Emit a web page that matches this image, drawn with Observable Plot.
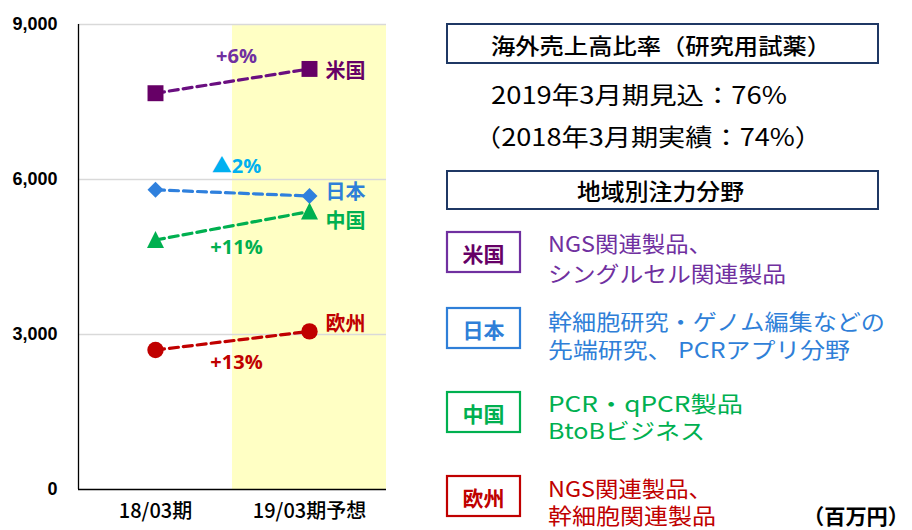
<!DOCTYPE html>
<html><head><meta charset="utf-8">
<script src="https://cdn.jsdelivr.net/npm/d3@7"></script>
<script src="https://cdn.jsdelivr.net/npm/@observablehq/plot@0.6"></script>
<style>
body{margin:0;background:#fff;}
#wrap{position:relative;width:912px;height:530px;overflow:hidden;}
#chart{position:absolute;left:0;top:0;}
#panel{position:absolute;left:0;top:0;font-family:"Noto Sans CJK JP",sans-serif;}
</style></head><body>
<div id="wrap"><div id="chart"></div><svg id="panel" width="912" height="530"></svg></div>
<script>
// ---- data ----
const categories = ["18/03期", "19/03期予想"];
const regions = ["米国", "日本", "中国", "欧州"];
const usSales = [7670, 8140];
const japanSales = [5800, 5680];
const chinaSales = [4830, 5380];
const europeSales = [2700, 3060];
const changeLabels = ["+6%", "▲2%", "+11%", "+13%"];
const yTicks = [0, 3000, 6000, 9000];
const focusLines = [
  ["NGS関連製品、", "シングルセル関連製品"],
  ["幹細胞研究・ゲノム編集などの", "先端研究、 PCRアプリ分野"],
  ["PCR・qPCR製品", "BtoBビジネス"],
  ["NGS関連製品、", "幹細胞関連製品"]
];
const ratioTitle = "海外売上高比率（研究用試薬）";
const ratioForecast = "2019年3月期見込：76%";
const ratioActual = "（2018年3月期実績：74%）";
const focusTitle = "地域別注力分野";
const unitLabel = "（百万円）";

const salesByRegion = [usSales, japanSales, chinaSales, europeSales];

// ---- styles ----
const tri = {draw(ctx, size){const r=Math.sqrt(size/Math.PI); ctx.moveTo(0,-r*1.05); ctx.lineTo(r,r*0.95); ctx.lineTo(-r,r*0.95); ctx.closePath();}};
const dia = {draw(ctx, size){const r=Math.sqrt(size/Math.PI); ctx.moveTo(0,-r); ctx.lineTo(r,0); ctx.lineTo(0,r); ctx.lineTo(-r,0); ctx.closePath();}};
const styles = [
  {mark:"#660066", line:"#6a0f80", name:"#660066", pct:"#7030a0", symbol:"square", r:9, pctDy:-24, nameDy:3, box:"#7030a0", text:"#7030a0"},
  {mark:"#2f80dd", line:"#2f80dd", name:"#2f7fd8", pct:"#00b0f0", symbol:dia, r:8, pctDy:-26, nameDy:-3, box:"#2f7fd8", text:"#2f7fd8"},
  {mark:"#00b050", line:"#00b050", name:"#00b050", pct:"#00b050", symbol:tri, r:8.5, pctDy:22, nameDy:10, box:"#00b050", text:"#00b050"},
  {mark:"#c00000", line:"#c00000", name:"#c00000", pct:"#c00000", symbol:"circle", r:8.2, pctDy:22, nameDy:-7, box:"#c00000", text:"#c00000"}
];

const marks = [
  Plot.rectY([{x1:1, x2:2, y1:0, y2:9000}], {x1:"x1", x2:"x2", y1:"y1", y2:"y2", fill:"#ffffc4"}),
  Plot.ruleY(yTicks.filter(d => d > 0), {stroke:"#d9d9d9", strokeWidth:1.3}),
  Plot.ruleX([0], {stroke:"#000", strokeWidth:1.3}),
  Plot.ruleY([0], {stroke:"#000", strokeWidth:1.3}),
  Plot.axisY({ticks:yTicks, tickFormat:d3.format(","), tickSize:0, tickPadding:21, fontSize:18, fontWeight:"bold", fill:"#000", fontFamily:"Liberation Sans, Arial, sans-serif"}),
  Plot.axisX({ticks:[0.5, 1.5], tickFormat:d => categories[Math.round(d - 0.5)], tickSize:0, tickPadding:14, fontSize:20, fontWeight:500, fill:"#000", fontFamily:"Noto Sans CJK JP, sans-serif", style:"letter-spacing:2.5px"})
];

regions.forEach((reg, i) => {
  const s = styles[i];
  const rows = salesByRegion[i].map((v, j) => ({x: j + 0.5, y: v}));
  marks.push(Plot.line(rows, {x:"x", y:"y", stroke:s.line, strokeWidth:3.2, strokeDasharray:"9,5"}));
  marks.push(Plot.dot(rows, {x:"x", y:"y", symbol:s.symbol, r:s.r, fill:s.mark, stroke:"none"}));
  const mid = (salesByRegion[i][0] + salesByRegion[i][1]) / 2;
  marks.push(Plot.text([{x:1, y:mid, t:changeLabels[i]}], {x:"x", y:"y", text:"t", dx:4, dy:s.pctDy, fill:s.pct, fontSize:20, fontWeight:"bold", fontFamily:"Open Sans, Noto Sans CJK JP, sans-serif"}));
  marks.push(Plot.text([{x:1.5, y:salesByRegion[i][1], t:reg}], {x:"x", y:"y", text:"t", dx:16, dy:s.nameDy, textAnchor:"start", fill:s.name, fontSize:20, fontWeight:"bold", fontFamily:"Noto Sans CJK JP, sans-serif"}));
});

const chart = Plot.plot({
  width: 400, height: 530,
  marginLeft: 78, marginRight: 14, marginTop: 24, marginBottom: 41,
  x: {type:"linear", domain:[0, 2], axis:null},
  y: {domain:[0, 9000], axis:null},
  style: {background:"transparent", overflow:"visible"},
  marks
});
document.getElementById("chart").appendChild(chart);

// ---- right panel ----
const svg = d3.select("#panel");
function txt(str, x, y, opts) {
  const t = svg.append("text").attr("x", x).attr("y", y).attr("dominant-baseline", "central")
    .attr("font-size", opts.size).attr("fill", opts.fill || "#000")
    .attr("font-weight", opts.weight || 400).text(str);
  if (opts.len) t.attr("textLength", opts.len).attr("lengthAdjust", "spacingAndGlyphs");
  if (opts.anchor) t.attr("text-anchor", opts.anchor);
  return t;
}
svg.append("rect").attr("x", 447).attr("y", 24).attr("width", 431).attr("height", 39).attr("fill", "none").attr("stroke", "#1f3864").attr("stroke-width", 2);
txt(ratioTitle, 491, 44, {size:22, weight:500, len:340});
txt(ratioForecast, 491, 93, {size:24, weight:400, len:296});
txt(ratioActual, 474, 135, {size:24, weight:400, len:348});
svg.append("rect").attr("x", 447).attr("y", 171).attr("width", 431).attr("height", 38).attr("fill", "none").attr("stroke", "#1f3864").attr("stroke-width", 2);
txt(focusTitle, 577, 190, {size:23, weight:500, len:167});

const rowTop = [232, 308, 392, 476];
const lineY = [[242, 272], [320, 348], [402, 429], [487, 514]];
const lineLen = [[164, 238], [337, 302], [195, 157], [164, 168]];
regions.forEach((reg, i) => {
  const s = styles[i];
  svg.append("rect").attr("x", 447).attr("y", rowTop[i]).attr("width", 73).attr("height", 40).attr("fill", "none").attr("stroke", s.box).attr("stroke-width", 2.2);
  txt(reg, 483.5, rowTop[i] + 21, {size:21, weight:700, fill:s.name, anchor:"middle"});
  focusLines[i].forEach((ln, k) => txt(ln, 548, lineY[i][k], {size:22, weight:400, fill:s.text, len:lineLen[i][k]}));
});
txt(unitLabel, 803, 515, {size:21, weight:700, len:106});
</script></body></html>
